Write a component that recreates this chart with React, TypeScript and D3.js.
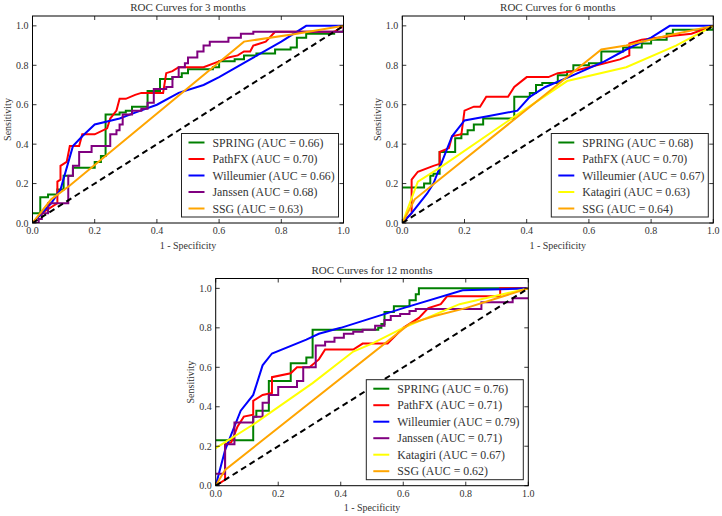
import { scaleLinear, line, curveLinear, curveStepAfter } from "d3";

const W = 722;
const H = 516;

const ticks = [0, 0.2, 0.4, 0.6, 0.8, 1.0];
const tickLabels = ["0.0", "0.2", "0.4", "0.6", "0.8", "1.0"];

type Pt = [number, number];

// ---- 3 months ----
const spring3: Pt[] = [[0, 0.05], [0.025, 0.13], [0.05, 0.145], [0.08, 0.17], [0.1, 0.24], [0.13, 0.28], [0.2, 0.31], [0.22, 0.34], [0.235, 0.55], [0.28, 0.56], [0.3, 0.57], [0.32, 0.59], [0.37, 0.67], [0.41, 0.73], [0.45, 0.74], [0.48, 0.76], [0.5, 0.78], [0.58, 0.79], [0.6, 0.82], [0.65, 0.83], [0.68, 0.85], [0.72, 0.86], [0.78, 0.88], [0.83, 0.89], [0.85, 0.94], [0.88, 0.96], [0.97, 0.97], [1, 0.98]];
const pathfx3: Pt[] = [[0, 0], [0.03, 0.05], [0.08, 0.1], [0.08, 0.21], [0.09, 0.22], [0.09, 0.29], [0.11, 0.31], [0.12, 0.39], [0.15, 0.39], [0.16, 0.45], [0.2, 0.45], [0.24, 0.48], [0.25, 0.53], [0.27, 0.57], [0.28, 0.63], [0.3, 0.63], [0.33, 0.65], [0.35, 0.66], [0.42, 0.66], [0.43, 0.76], [0.45, 0.77], [0.47, 0.79], [0.55, 0.79], [0.6, 0.82], [0.63, 0.84], [0.66, 0.85], [0.68, 0.87], [0.7, 0.87], [0.71, 0.9], [0.75, 0.92], [0.78, 0.97], [0.97, 0.97], [1, 1]];
const willeumier3: Pt[] = [[0, 0], [0.03, 0.05], [0.06, 0.1], [0.09, 0.17], [0.13, 0.39], [0.16, 0.44], [0.2, 0.5], [0.28, 0.53], [0.33, 0.56], [0.4, 0.6], [0.47, 0.66], [0.55, 0.7], [0.6, 0.74], [0.7, 0.83], [0.8, 0.92], [0.88, 1], [1, 1]];
const janssen3: Pt[] = [[0, 0], [0.02, 0.02], [0.03, 0.05], [0.05, 0.1], [0.115, 0.24], [0.13, 0.29], [0.15, 0.36], [0.19, 0.39], [0.25, 0.45], [0.27, 0.47], [0.28, 0.5], [0.29, 0.55], [0.32, 0.57], [0.35, 0.58], [0.37, 0.61], [0.39, 0.68], [0.43, 0.69], [0.45, 0.74], [0.47, 0.79], [0.49, 0.81], [0.5, 0.84], [0.53, 0.87], [0.55, 0.9], [0.57, 0.92], [0.63, 0.94], [0.67, 0.96], [0.71, 0.97], [1, 0.99]];
const ssg3: Pt[] = [[0, 0], [0.06, 0.12], [0.12, 0.19], [0.68, 0.92], [0.85, 0.96], [1, 1]];

// ---- 6 months ----
const spring6: Pt[] = [[0, 0.18], [0.07, 0.2], [0.09, 0.24], [0.1, 0.25], [0.12, 0.36], [0.17, 0.43], [0.19, 0.45], [0.21, 0.47], [0.23, 0.5], [0.26, 0.53], [0.36, 0.64], [0.41, 0.66], [0.43, 0.7], [0.45, 0.71], [0.5, 0.75], [0.53, 0.77], [0.55, 0.8], [0.6, 0.81], [0.64, 0.87], [0.71, 0.89], [0.77, 0.91], [0.8, 0.93], [0.85, 0.96], [0.87, 0.98], [0.97, 0.98], [1, 1]];
const pathfx6: Pt[] = [[0, 0], [0.03, 0.05], [0.03, 0.22], [0.05, 0.26], [0.1, 0.29], [0.12, 0.3], [0.12, 0.36], [0.15, 0.38], [0.16, 0.44], [0.19, 0.45], [0.2, 0.57], [0.23, 0.59], [0.25, 0.59], [0.27, 0.64], [0.34, 0.64], [0.36, 0.69], [0.4, 0.74], [0.47, 0.74], [0.5, 0.76], [0.55, 0.77], [0.6, 0.79], [0.7, 0.83], [0.73, 0.85], [0.73, 0.91], [0.77, 0.93], [0.87, 0.95], [0.93, 0.96], [1, 1]];
const willeumier6: Pt[] = [[0, 0], [0.03, 0.05], [0.08, 0.15], [0.1, 0.2], [0.13, 0.32], [0.16, 0.44], [0.2, 0.52], [0.27, 0.54], [0.37, 0.57], [0.41, 0.64], [0.46, 0.69], [0.55, 0.75], [0.65, 0.82], [0.72, 0.88], [0.8, 0.94], [0.86, 1], [1, 1]];
const katagiri6: Pt[] = [[0, 0], [0.05, 0.21], [0.12, 0.28], [0.37, 0.55], [0.53, 0.72], [0.72, 0.79], [0.88, 0.9], [1, 1]];
const ssg6: Pt[] = [[0, 0], [0.04, 0.12], [0.64, 0.88], [0.72, 0.9], [0.85, 0.95], [1, 1]];

// ---- 12 months ----
const spring12: Pt[] = [[0, 0.23], [0.12, 0.35], [0.13, 0.38], [0.17, 0.53], [0.24, 0.62], [0.29, 0.65], [0.31, 0.79], [0.52, 0.8], [0.53, 0.82], [0.54, 0.88], [0.57, 0.91], [0.62, 0.94], [0.64, 0.97], [0.65, 1], [1, 1]];
const pathfx12: Pt[] = [[0, 0], [0.03, 0.03], [0.03, 0.21], [0.05, 0.22], [0.07, 0.3], [0.09, 0.35], [0.12, 0.36], [0.12, 0.43], [0.15, 0.46], [0.18, 0.47], [0.18, 0.55], [0.24, 0.57], [0.26, 0.6], [0.3, 0.6], [0.33, 0.64], [0.35, 0.69], [0.44, 0.69], [0.47, 0.72], [0.55, 0.72], [0.6, 0.8], [0.65, 0.85], [0.68, 0.9], [0.72, 0.92], [0.74, 0.96], [0.91, 0.96], [0.91, 1], [1, 1]];
const willeumier12: Pt[] = [[0, 0], [0.03, 0.18], [0.08, 0.38], [0.12, 0.46], [0.15, 0.61], [0.18, 0.67], [0.29, 0.74], [0.33, 0.77], [0.4, 0.8], [0.6, 0.9], [0.79, 0.99], [1, 1]];
const janssen12: Pt[] = [[0, 0.06], [0.03, 0.21], [0.06, 0.32], [0.12, 0.35], [0.15, 0.42], [0.17, 0.46], [0.2, 0.5], [0.26, 0.53], [0.28, 0.6], [0.32, 0.71], [0.35, 0.73], [0.38, 0.75], [0.41, 0.77], [0.44, 0.78], [0.47, 0.79], [0.51, 0.81], [0.54, 0.84], [0.56, 0.86], [0.59, 0.87], [0.62, 0.885], [0.64, 0.895], [0.85, 0.93], [0.95, 0.95], [1, 0.95]];
const katagiri12: Pt[] = [[0, 0.19], [0.12, 0.31], [0.31, 0.52], [0.44, 0.68], [0.5, 0.72], [0.6, 0.8], [0.78, 0.92], [1, 1]];
const ssg12: Pt[] = [[0, 0], [0.03, 0.08], [0.62, 0.82], [0.7, 0.86], [0.8, 0.9], [1, 1]];

const diagonal: Pt[] = [[0, 0], [1, 1]];

const GREEN = "#008000";
const RED = "#ff0000";
const BLUE = "#0000ff";
const PURPLE = "#800080";
const YELLOW = "#ffff00";
const ORANGE = "#ffa500";

type Series = { label: string; color: string; points: Pt[]; step?: boolean };

const panels: { title: string; x: number; y: number; w: number; h: number; series: Series[] }[] = [
  {
    title: "ROC Curves for 3 months",
    x: 32.5, y: 16, w: 311, h: 207,
    series: [
      { label: "SPRING (AUC = 0.66)", color: GREEN, points: spring3, step: true },
      { label: "PathFX (AUC = 0.70)", color: RED, points: pathfx3 },
      { label: "Willeumier (AUC = 0.66)", color: BLUE, points: willeumier3 },
      { label: "Janssen (AUC = 0.68)", color: PURPLE, points: janssen3, step: true },
      { label: "SSG (AUC = 0.63)", color: ORANGE, points: ssg3 },
    ],
  },
  {
    title: "ROC Curves for 6 months",
    x: 402.3, y: 16, w: 311, h: 207,
    series: [
      { label: "SPRING (AUC = 0.68)", color: GREEN, points: spring6, step: true },
      { label: "PathFX (AUC = 0.70)", color: RED, points: pathfx6 },
      { label: "Willeumier (AUC = 0.67)", color: BLUE, points: willeumier6 },
      { label: "Katagiri (AUC = 0.63)", color: YELLOW, points: katagiri6 },
      { label: "SSG (AUC = 0.64)", color: ORANGE, points: ssg6 },
    ],
  },
  {
    title: "ROC Curves for 12 months",
    x: 215.7, y: 278.5, w: 312.6, h: 207.2,
    series: [
      { label: "SPRING (AUC = 0.76)", color: GREEN, points: spring12, step: true },
      { label: "PathFX (AUC = 0.71)", color: RED, points: pathfx12 },
      { label: "Willeumier (AUC = 0.79)", color: BLUE, points: willeumier12 },
      { label: "Janssen (AUC = 0.71)", color: PURPLE, points: janssen12, step: true },
      { label: "Katagiri (AUC = 0.67)", color: YELLOW, points: katagiri12 },
      { label: "SSG (AUC = 0.62)", color: ORANGE, points: ssg12 },
    ],
  },
];

const FONT = "Liberation Serif, serif";

const Panel = ({ p, id }: { p: (typeof panels)[number]; id: number }) => {
  const x = scaleLinear().domain([0, 1]).range([p.x, p.x + p.w]);
  const y = scaleLinear().domain([0, 1.05]).range([p.y + p.h, p.y]);
  const mk = (step?: boolean) =>
    line<Pt>()
      .x((d) => x(d[0]))
      .y((d) => y(d[1]))
      .curve(step ? curveStepAfter : curveLinear);

  const rowH = 16.5;
  const legW = 157;
  const legH = p.series.length * rowH + 1;
  const legX = p.x + p.w - 5 - legW;
  const legY = p.y + p.h - 6 - legH;
  const bottom = p.y + p.h;
  const right = p.x + p.w;

  return (
    <g>
      <defs>
        <clipPath id={`clip${id}`}>
          <rect x={p.x} y={p.y} width={p.w} height={p.h} />
        </clipPath>
      </defs>
      <g clipPath={`url(#clip${id})`}>
        {p.series.map((s) => (
          <path key={s.label} d={mk(s.step)(s.points)!} fill="none" stroke={s.color} strokeWidth={2} />
        ))}
        <path d={mk()(diagonal)!} fill="none" stroke="#000" strokeWidth={2} strokeDasharray="6,4" />
      </g>
      <rect x={p.x} y={p.y} width={p.w} height={p.h} fill="none" stroke="#000" strokeWidth={1} />
      {ticks.map((t) => (
        <g key={t} stroke="#000" strokeWidth={0.8}>
          <line x1={x(t)} x2={x(t)} y1={bottom} y2={bottom - 4} />
          <line x1={x(t)} x2={x(t)} y1={p.y} y2={p.y + 4} />
          <line x1={p.x} x2={p.x + 4} y1={y(t)} y2={y(t)} />
          <line x1={right} x2={right - 4} y1={y(t)} y2={y(t)} />
        </g>
      ))}
      {ticks.map((t, i) => (
        <text key={"xl" + t} x={x(t)} y={bottom + 11} textAnchor="middle" fontSize={10} fontFamily={FONT} fill="#333">
          {tickLabels[i]}
        </text>
      ))}
      {ticks.map((t, i) => (
        <text key={"yl" + t} x={p.x - 4} y={y(t)} dy="0.35em" textAnchor="end" fontSize={10} fontFamily={FONT} fill="#333">
          {tickLabels[i]}
        </text>
      ))}
      <text x={p.x + p.w / 2} y={p.y - 5} textAnchor="middle" fontSize={11} fontFamily={FONT} fill="#333">
        {p.title}
      </text>
      <text x={p.x + p.w / 2} y={bottom + 25.5} textAnchor="middle" fontSize={10} fontFamily={FONT} fill="#333">
        1 - Specificity
      </text>
      <text
        transform={`translate(${p.x - 25}, ${p.y + p.h / 2}) rotate(-90)`}
        dy="0.35em"
        textAnchor="middle"
        fontSize={10}
        fontFamily={FONT}
        fill="#333"
      >
        Sensitivity
      </text>
      <rect x={legX} y={legY} width={legW} height={legH} fill="#fff" stroke="#222" strokeWidth={1} />
      {p.series.map((s, i) => {
        const cy = legY + 9 + i * rowH;
        return (
          <g key={"lg" + s.label}>
            <line x1={legX + 7} x2={legX + 23} y1={cy} y2={cy} stroke={s.color} strokeWidth={2} />
            <text x={legX + 31} y={cy} dy="0.35em" fontSize={11.8} fontFamily={FONT} fill="#333">
              {s.label}
            </text>
          </g>
        );
      })}
    </g>
  );
};

const App = () => (
  <svg width={W} height={H} style={{ position: "absolute", left: 0, top: 0, background: "#fff" }}>
    {panels.map((p, i) => (
      <Panel key={p.title} p={p} id={i} />
    ))}
  </svg>
);

export default App;
